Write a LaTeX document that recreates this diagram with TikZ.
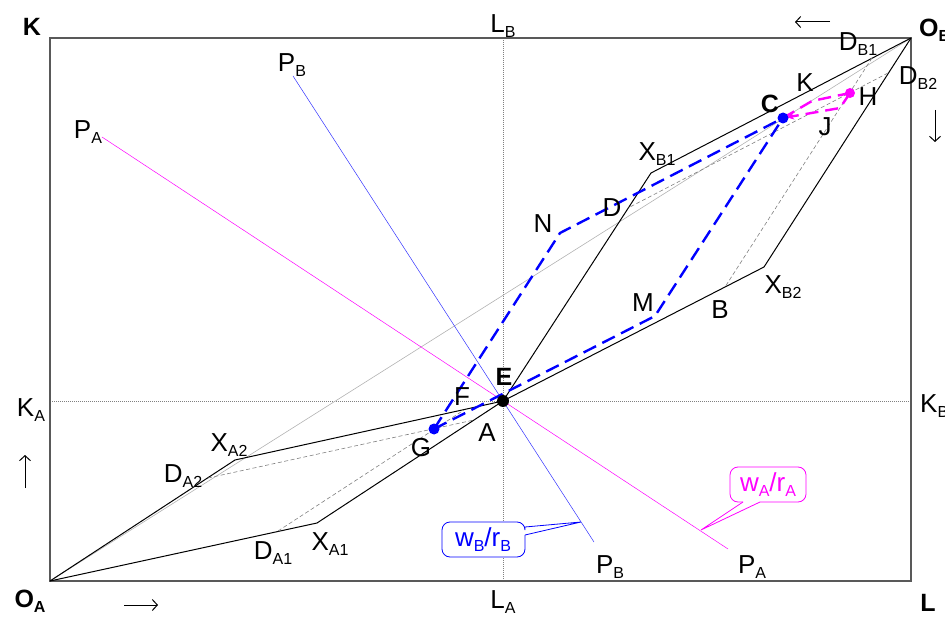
\documentclass[tikz,border=0pt]{standalone}
\usepackage{fontspec}
\setmainfont{Liberation Sans}
\usetikzlibrary{arrows.meta}
\definecolor{mag}{RGB}{255,0,255}
\definecolor{pblue}{RGB}{0,0,255}
\newcommand{\sbx}[1]{\raisebox{-5pt}{\fontsize{16}{16}\selectfont #1}}
\begin{document}
\begin{tikzpicture}[x=1pt,y=-1pt,
  lbl/.style={font=\fontsize{26}{26}\selectfont, inner sep=0pt},
  blbl/.style={font=\fontsize{25}{25}\selectfont\bfseries, inner sep=0pt},
  curve/.style={line width=1pt, black},
  gdash/.style={gray, line width=0.6pt, dash pattern=on 4pt off 2.5pt},
  diag/.style={gray!60, line width=0.6pt},
  bdash/.style={pblue, line width=2.4pt, dash pattern=on 14pt off 7pt},
  mdash/.style={mag, line width=2.4pt, dash pattern=on 13pt off 7pt},
  guide/.style={gray, line width=0.5pt, dash pattern=on 1pt off 1pt},
  glyph/.style={line width=1pt, -{Straight Barb[length=5pt,width=11pt]}},
  frame/.style={gray!70!black, line width=1.2pt},
]
\useasboundingbox (0,0) rectangle (945,617);
% points
\coordinate (OA) at (50,581);
\coordinate (OB) at (911,38);
\coordinate (TL) at (50,38);
\coordinate (BR) at (911,581);
\coordinate (E) at (503,401);
\coordinate (XA2) at (235,460);
\coordinate (XA1) at (317,523);
\coordinate (XB1) at (651,173);
\coordinate (XB2) at (764,267);
\coordinate (DA2) at (208,478);
\coordinate (DA1) at (278,531);
\coordinate (DB1) at (872,58);
\coordinate (DB2) at (888,73);
\coordinate (A) at (474,420);
\coordinate (F) at (464,410);
\coordinate (B) at (725,287);
\coordinate (D) at (628,208);
\coordinate (G) at (434,429);
\coordinate (N) at (560,233);
\coordinate (M) at (655,316);
\coordinate (C) at (783,118);
\coordinate (H) at (850,93);
\coordinate (Kk) at (812,101);
\coordinate (J) at (840,108);
\coordinate (KA) at (50,401);
\coordinate (KB) at (911,401);
\coordinate (LA) at (503,581);
\coordinate (LB) at (503,38);
\coordinate (PA1) at (102,137);
\coordinate (PA2) at (728,549);
\coordinate (PB1) at (293,76);
\coordinate (PB2) at (594,542);
\coordinate (tipB) at (581,522);
\coordinate (tipA) at (701,530);
% frame and guides
\draw[guide] (LB) -- (LA);
\draw[guide] (KA) -- (KB);
\draw[frame] (TL) rectangle (BR);
\draw[diag] (OA) -- (OB);
% contract curves
\draw[curve] (OA) -- (XA2) -- (E) -- (XB1) -- (OB);
\draw[curve] (OA) -- (XA1) -- (E) -- (XB2) -- (OB);
% dashed construction
\draw[gdash] (DA2) -- (A);
\draw[gdash] (DA1) -- (F);
\draw[gdash] (DB1) -- (B);
\draw[gdash] (DB2) -- (D);
% price lines
\draw[mag, line width=0.5pt] (PA1) -- (PA2);
\draw[pblue!80, line width=0.5pt] (PB1) -- (PB2);
% paths
\draw[bdash] (G) -- (N) -- (C);
\draw[bdash] (G) -- (M) -- (C);
\draw[mdash] (C) -- (Kk) -- (H);
\draw[mdash, -{Stealth[length=7pt,width=7pt]}, shorten >=4pt] (H) -- (J) -- (C);
% dots
\fill[black] (E) circle (6);
\fill[pblue] (G) circle (5.5);
\fill[pblue] (C) circle (5.5);
\fill[mag] (H) circle (5);
% callouts
\draw[pblue, line width=0.8pt, fill=white, rounded corners=8pt] (525,527) -- (525,522) -- (442,522) -- (442,557) -- (525,557) -- (525,535);
\draw[pblue, line width=0.8pt] (525,527) -- (tipB) -- (525,535);
\node[lbl, text=pblue] (wB) at (483,540) {w\sbx{B}/r\sbx{B}};
\draw[mag, line width=0.8pt, fill=white, rounded corners=8pt] (743,502) -- (730,502) -- (730,467) -- (806,467) -- (806,502) -- (760,502);
\draw[mag, line width=0.8pt] (743,502) -- (tipA) -- (760,502);
\node[lbl, text=mag] (wA) at (768,485) {w\sbx{A}/r\sbx{A}};
% arrow glyphs
\draw[glyph] (830,22) -- (795,22);
\draw[glyph] (935,110) -- (935,142);
\draw[glyph] (25,488) -- (25,455);
\draw[glyph] (124,605) -- (158,605);
% labels
\node[blbl] (lK) at (32,27) {K};
\node[lbl] (lLB) at (503,26) {L\sbx{B}};
\node[blbl, anchor=west] (lOB) at (919,30) {O\sbx{B}};
\node[lbl] (lDB1) at (858,44) {D\sbx{B1}};
\node[lbl] (lDB2) at (918,78) {D\sbx{B2}};
\node[lbl] (lKk) at (805,83) {K};
\node[lbl] (lH) at (868,97) {H};
\node[blbl] (lC) at (770,104) {C};
\node[lbl] (lJ) at (825,127) {J};
\node[lbl] (lXB1) at (657,154) {X\sbx{B1}};
\node[lbl] (lD) at (612,208) {D};
\node[lbl] (lN) at (543,224) {N};
\node[lbl] (lM) at (643,303) {M};
\node[lbl] (lB) at (720,310) {B};
\node[lbl] (lXB2) at (783,287) {X\sbx{B2}};
\node[lbl] (lPBt) at (292,65) {P\sbx{B}};
\node[lbl] (lPAt) at (88,132) {P\sbx{A}};
\node[blbl] (lE) at (504,377) {E};
\node[lbl] (lF) at (462,397) {F};
\node[lbl] (lA) at (487,433) {A};
\node[lbl] (lG) at (421,448) {G};
\node[lbl] (lKA) at (31,410) {K\sbx{A}};
\node[lbl, anchor=west] (lKB) at (920,406) {K\sbx{B}};
\node[lbl] (lXA2) at (229,445) {X\sbx{A2}};
\node[lbl] (lDA2) at (183,476) {D\sbx{A2}};
\node[lbl] (lDA1) at (273,553) {D\sbx{A1}};
\node[lbl] (lXA1) at (330,544) {X\sbx{A1}};
\node[lbl] (lPBb) at (610,567) {P\sbx{B}};
\node[lbl] (lPAb) at (752,567) {P\sbx{A}};
\node[blbl] (lOA) at (30,601) {O\sbx{A}};
\node[lbl] (lLA) at (503,602) {L\sbx{A}};
\node[blbl] (lL) at (928,603) {L};
\end{tikzpicture}
\end{document}
